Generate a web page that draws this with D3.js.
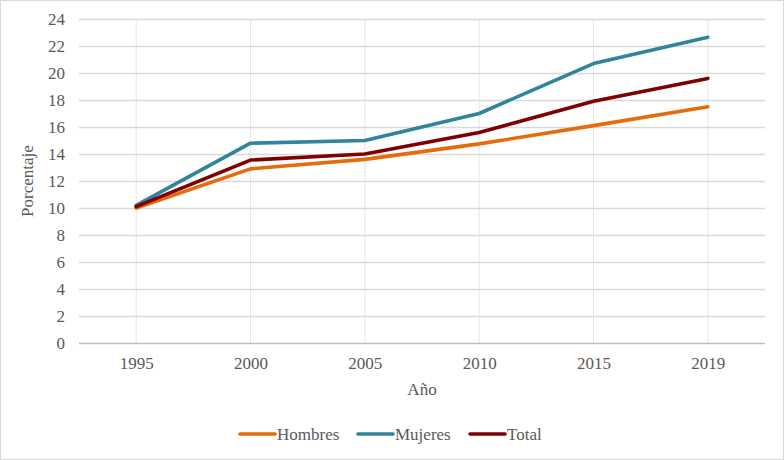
<!DOCTYPE html>
<html>
<head>
<meta charset="utf-8">
<script src="https://cdn.jsdelivr.net/npm/d3@7"></script>
<style>
  body { margin: 0; background: #fff; }
</style>
</head>
<body>
<svg id="chart"></svg>
<script>
const years = ["1995", "2000", "2005", "2010", "2015", "2019"];
const hombres = [10.0, 12.9, 13.6, 14.75, 16.1, 17.5];
const mujeres = [10.2, 14.8, 15.0, 17.0, 20.7, 22.65];
const total = [10.1, 13.55, 14.0, 15.6, 17.9, 19.6];
const yTicks = [0, 2, 4, 6, 8, 10, 12, 14, 16, 18, 20, 22, 24];

const seriesNames = ["Hombres", "Mujeres", "Total"];
const seriesColors = ["#e46c0a", "#31849b", "#7f0000"];

const W = 784, H = 460;
const margin = { top: 19, right: 19, bottom: 117, left: 79 };
const width = W - margin.left - margin.right;
const height = H - margin.top - margin.bottom;
const serif = "Liberation Serif";

const root = d3.select("#chart").attr("width", W).attr("height", H);

// outer frame
root.append("rect")
    .attr("x", 0.5).attr("y", 0.5)
    .attr("width", W - 1).attr("height", H - 1)
    .attr("fill", "#fff").attr("stroke", "#d9d9d9");

const svg = root.append("g")
    .attr("transform", `translate(${margin.left},${margin.top})`);

const x = d3.scalePoint().domain(years).range([0, width]).padding(0.5);
const y = d3.scaleLinear().domain([0, 24]).range([height, 0]);

// vertical gridlines at categories
svg.append("g")
    .selectAll("line")
    .data(years)
  .enter().append("line")
    .attr("x1", d => x(d)).attr("x2", d => x(d))
    .attr("y1", 0).attr("y2", height)
    .attr("stroke", "#e6e6e6").attr("stroke-width", 1);

// horizontal gridlines + y labels
const yAxis = svg.append("g")
    .call(d3.axisLeft(y).tickValues(yTicks).tickSize(-width).tickPadding(14));
yAxis.select(".domain").remove();
yAxis.selectAll(".tick line")
    .attr("stroke", d => d === 0 ? "#bfbfbf" : "#d9d9d9")
    .attr("stroke-width", 1.3);
yAxis.selectAll(".tick text")
    .attr("fill", "#595959")
    .style("font-family", serif)
    .style("font-size", "17px");

// x labels
const xAxis = svg.append("g")
    .attr("transform", `translate(0,${height})`)
    .call(d3.axisBottom(x).tickSize(0).tickPadding(14));
xAxis.select(".domain").remove();
xAxis.selectAll(".tick text")
    .attr("fill", "#595959")
    .style("font-family", serif)
    .style("font-size", "17px");

// axis titles
svg.append("text")
    .attr("transform", `translate(-46,${height / 2}) rotate(-90)`)
    .attr("text-anchor", "middle")
    .attr("fill", "#595959")
    .style("font-family", serif)
    .style("font-size", "17px")
    .text("Porcentaje");

svg.append("text")
    .attr("x", width / 2)
    .attr("y", height + 52)
    .attr("text-anchor", "middle")
    .attr("fill", "#595959")
    .style("font-family", serif)
    .style("font-size", "17px")
    .text("Año");

// lines
const allSeries = [hombres, mujeres, total];
const line = d3.line()
    .x((d, i) => x(years[i]))
    .y(d => y(d));

svg.append("g")
    .selectAll("path")
    .data(allSeries)
  .enter().append("path")
    .attr("d", d => line(d))
    .attr("fill", "none")
    .attr("stroke", (d, i) => seriesColors[i])
    .attr("stroke-width", 3.6)
    .attr("stroke-linejoin", "round")
    .attr("stroke-linecap", "round");

// legend
const legendX = [240, 358, 470];
const legend = root.append("g")
    .selectAll("g")
    .data(seriesNames)
  .enter().append("g")
    .attr("transform", (d, i) => `translate(${legendX[i]},434)`);
legend.append("line")
    .attr("x1", 0).attr("x2", 35)
    .attr("y1", 0).attr("y2", 0)
    .attr("stroke", (d, i) => seriesColors[i])
    .attr("stroke-width", 3.6)
    .attr("stroke-linecap", "round");
legend.append("text")
    .attr("x", 37)
    .attr("y", 6)
    .attr("fill", "#595959")
    .style("font-family", serif)
    .style("font-size", "17px")
    .text(d => d);
</script>
</body>
</html>
